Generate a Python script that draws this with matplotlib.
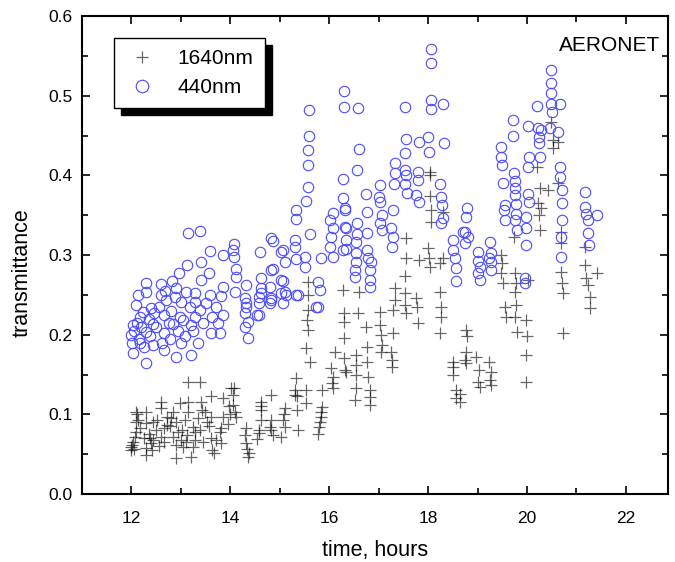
import matplotlib.pyplot as plt
from matplotlib.ticker import MultipleLocator

plt.rcParams["font.family"] = ["Liberation Sans", "DejaVu Sans"]

# 440 nm transmittance (blue circles)
t440 = [
    13.15, 13.39, 13.58, 13.86, 13.13, 13.41, 12.97, 13.56, 13.41, 12.83, 12.6, 12.3, 12.3, 12.59,
    12.89, 13.11, 13.29, 13.58, 13.82, 13.86, 12.14, 12.1, 12.4, 12.7, 13.0, 13.29, 13.29, 12.99,
    12.65, 12.46, 12.18, 12.04, 13.86, 13.62, 13.39, 13.6, 13.8, 13.21, 12.85, 12.44, 12.65, 12.3,
    12.0, 12.04, 12.3, 12.91, 13.21, 12.65, 13.35, 13.01, 12.44, 12.18, 12.02, 12.06, 12.12, 12.15,
    12.2, 12.24, 12.26, 12.35, 12.38, 12.5, 12.55, 12.62, 12.75, 12.8, 12.95, 13.05, 13.08, 13.18,
    13.25, 12.78, 13.45, 13.5, 13.7, 13.75, 12.9, 12.68,
    14.08, 14.06, 14.08, 14.12, 14.12, 14.1, 14.3, 14.32, 14.3, 14.32, 14.36, 14.3, 14.36, 14.32,
    14.53, 14.57, 14.57, 14.61, 14.59, 14.63, 14.63, 14.57, 14.81, 14.83, 14.83, 14.81, 14.83, 14.87,
    14.83, 14.87, 15.03, 15.03, 15.03, 15.07, 15.07, 15.11, 15.11, 15.13, 15.07, 15.31, 15.31, 15.33,
    15.37, 15.33, 15.33, 15.33, 15.52, 15.52, 15.54, 15.58, 15.58, 15.58, 15.62, 15.78, 15.82, 15.74,
    15.84, 15.78, 16.02, 16.08, 16.08, 16.04, 16.02, 16.08, 16.28, 16.28, 16.32, 16.32, 16.34, 16.28,
    15.6, 15.6,
    16.3, 16.3, 16.59, 16.61, 16.57, 17.54, 18.06, 18.06, 18.06, 18.06, 18.3, 17.56, 17.54, 17.82,
    18.0, 18.02, 18.32, 17.33, 17.33, 17.54, 17.56, 17.8, 17.8, 17.31, 17.54, 17.58, 17.76, 17.82,
    18.24, 18.26, 18.28, 18.3, 18.26, 16.32, 16.75, 16.77, 17.03, 17.01, 17.03, 17.07, 17.03, 17.07,
    17.29, 17.25, 17.29, 17.27, 16.34, 16.34, 16.57, 16.57, 16.55, 16.77, 16.77, 16.55, 16.55, 16.53,
    16.53, 16.79, 16.85, 16.83, 16.83, 16.83, 18.5, 18.5, 18.55, 18.57, 18.57, 18.7,
    20.48, 20.48, 20.48, 20.48, 20.67, 20.5, 20.2, 19.72, 19.72, 20.02, 20.22, 20.28, 20.46, 20.63,
    20.24, 20.24, 20.26, 20.04, 20.02, 19.47, 19.47, 19.49, 19.51, 19.74, 19.76, 19.76, 19.76, 19.78,
    19.78, 19.76, 19.8, 20.02, 20.04, 19.98, 19.98, 19.98, 19.56, 19.54, 19.56, 20.67, 20.67, 20.71,
    20.71, 20.71, 20.69, 20.69, 21.17, 21.17, 21.19, 21.23, 21.23, 21.25, 21.41, 18.79, 18.77, 18.75,
    18.81, 18.75, 19.0, 19.01, 19.05, 19.01, 19.05, 19.25, 19.27, 19.27, 19.27, 19.23, 19.96, 19.96,
]
v440 = [
    0.327, 0.33, 0.305, 0.30, 0.287, 0.291, 0.277, 0.277, 0.268, 0.267, 0.263, 0.265, 0.253, 0.25,
    0.247, 0.253, 0.252, 0.25, 0.248, 0.26, 0.25, 0.237, 0.233, 0.243, 0.241, 0.241, 0.222, 0.222,
    0.225, 0.227, 0.222, 0.212, 0.225, 0.222, 0.231, 0.202, 0.202, 0.212, 0.214, 0.214, 0.202, 0.203,
    0.2, 0.177, 0.164, 0.172, 0.174, 0.181, 0.189, 0.189, 0.187, 0.189, 0.19, 0.205, 0.215, 0.195,
    0.21, 0.228, 0.185, 0.22, 0.198, 0.21, 0.235, 0.19, 0.215, 0.23, 0.205, 0.218, 0.198, 0.235,
    0.205, 0.195, 0.215, 0.24, 0.235, 0.215, 0.258, 0.255,
    0.314, 0.306, 0.297, 0.283, 0.272, 0.253, 0.227, 0.262, 0.246, 0.235, 0.216, 0.21, 0.196, 0.24,
    0.225, 0.24, 0.247, 0.258, 0.304, 0.271, 0.252, 0.225, 0.26, 0.243, 0.246, 0.24, 0.281, 0.282,
    0.321, 0.317, 0.304, 0.252, 0.268, 0.306, 0.267, 0.291, 0.253, 0.25, 0.24, 0.319, 0.31, 0.295,
    0.25, 0.25, 0.356, 0.345, 0.297, 0.285, 0.368, 0.385, 0.413, 0.432, 0.326, 0.266, 0.256, 0.235,
    0.296, 0.235, 0.344, 0.353, 0.334, 0.322, 0.31, 0.297, 0.396, 0.371, 0.359, 0.335, 0.319, 0.306,
    0.482, 0.45,
    0.506, 0.486, 0.484, 0.433, 0.407, 0.486, 0.558, 0.541, 0.494, 0.483, 0.489, 0.445, 0.428, 0.442,
    0.448, 0.429, 0.44, 0.415, 0.403, 0.407, 0.4, 0.404, 0.394, 0.389, 0.389, 0.378, 0.375, 0.366,
    0.389, 0.373, 0.363, 0.346, 0.34, 0.356, 0.377, 0.354, 0.388, 0.373, 0.366, 0.35, 0.34, 0.331,
    0.357, 0.334, 0.322, 0.31, 0.334, 0.308, 0.34, 0.326, 0.316, 0.327, 0.306, 0.302, 0.291, 0.281,
    0.272, 0.296, 0.291, 0.281, 0.268, 0.26, 0.319, 0.306, 0.296, 0.284, 0.267, 0.329,
    0.532, 0.516, 0.503, 0.49, 0.49, 0.479, 0.487, 0.469, 0.45, 0.462, 0.459, 0.457, 0.46, 0.455,
    0.448, 0.44, 0.423, 0.423, 0.41, 0.435, 0.423, 0.413, 0.39, 0.403, 0.393, 0.384, 0.375, 0.364,
    0.352, 0.344, 0.331, 0.376, 0.366, 0.348, 0.334, 0.312, 0.363, 0.356, 0.344, 0.41, 0.398, 0.381,
    0.365, 0.344, 0.322, 0.298, 0.379, 0.36, 0.352, 0.344, 0.328, 0.312, 0.35, 0.359, 0.348, 0.329,
    0.323, 0.315, 0.304, 0.293, 0.285, 0.277, 0.268, 0.316, 0.302, 0.291, 0.281, 0.296, 0.271, 0.265,
]

# 1640 nm transmittance (crosses)
t1640 = [
    13.15, 13.39, 13.6, 13.86, 14.02, 12.6, 12.99, 13.15, 13.41, 13.43, 13.49, 13.15, 12.85, 12.59,
    12.3, 12.1, 12.1, 12.14, 12.3, 12.44, 12.71, 12.71, 12.91, 13.09, 13.25, 13.29, 13.39, 13.56,
    13.6, 13.86, 13.82, 13.8, 13.82, 13.6, 13.62, 13.29, 13.25, 13.21, 13.05, 13.01, 12.91, 12.85,
    12.65, 12.6, 12.65, 12.44, 12.4, 12.3, 12.3, 12.08, 12.04, 12.0, 12.0, 12.1, 12.91, 12.18,
    12.02, 12.06, 12.12, 12.35, 12.38, 12.42, 12.5, 12.52, 12.78, 12.8, 12.95, 13.02, 13.1, 13.12,
    13.35, 13.45, 13.52, 13.66, 13.7, 13.95, 13.98, 14.0, 12.25, 12.55,
    14.08, 14.06, 14.06, 14.1, 14.12, 14.32, 14.3, 14.32, 14.34, 14.38, 14.36, 14.57, 14.61, 14.61,
    14.61, 14.57, 14.83, 14.83, 14.81, 14.83, 15.03, 15.07, 15.09, 15.11, 15.11, 15.33, 15.31, 15.31,
    15.35, 15.37, 15.54, 15.54, 15.62, 15.54, 15.58, 15.56, 15.58, 15.58, 15.58, 15.86, 15.84, 15.84,
    15.82, 15.8, 15.78, 15.86, 16.04, 16.08, 16.06, 16.08, 16.12, 16.28, 16.3, 16.3, 16.3, 16.3,
    16.32, 14.87, 14.61, 14.53, 15.35,
    18.04, 18.04, 18.04, 18.06, 18.06, 18.3, 17.56, 17.56, 17.54, 18.0, 18.02, 18.04, 17.82, 18.3,
    17.33, 17.33, 17.29, 17.54, 17.54, 17.56, 17.76, 17.78, 17.8, 18.24, 18.26, 18.26, 18.24, 17.03,
    17.03, 17.05, 17.07, 17.05, 17.29, 17.25, 17.27, 17.27, 16.75, 16.77, 16.77, 16.79, 16.83, 16.83,
    16.83, 16.55, 16.55, 16.55, 16.55, 16.53, 16.34, 16.59, 16.61, 18.5, 18.51, 18.51, 18.57, 18.57,
    18.24, 18.65, 18.65,
    20.48, 20.53, 20.63, 20.53, 20.2, 20.26, 20.42, 20.22, 20.28, 20.24, 20.26, 20.63, 20.69, 20.69,
    20.69, 20.71, 20.73, 20.73, 19.74, 19.47, 19.49, 19.47, 19.51, 19.76, 19.78, 19.76, 19.78, 19.56,
    19.58, 19.76, 19.8, 19.98, 20.0, 19.98, 19.98, 20.02, 18.77, 18.79, 18.77, 18.75, 18.77, 18.97,
    19.03, 19.01, 19.05, 19.23, 19.27, 19.25, 19.27, 21.17, 21.19, 21.23, 21.27, 21.27, 21.41, 21.17,
]
v1640 = [
    0.141, 0.141, 0.123, 0.12, 0.133, 0.115, 0.114, 0.115, 0.115, 0.105, 0.103, 0.103, 0.103, 0.108,
    0.103, 0.103, 0.09, 0.093, 0.089, 0.09, 0.097, 0.087, 0.09, 0.093, 0.084, 0.078, 0.08, 0.085,
    0.097, 0.097, 0.083, 0.078, 0.064, 0.07, 0.055, 0.068, 0.059, 0.046, 0.059, 0.068, 0.061, 0.072,
    0.083, 0.072, 0.065, 0.068, 0.064, 0.058, 0.049, 0.072, 0.065, 0.059, 0.055, 0.078, 0.045, 0.083,
    0.062, 0.057, 0.1, 0.075, 0.07, 0.055, 0.08, 0.093, 0.085, 0.095, 0.078, 0.08, 0.065, 0.074,
    0.095, 0.065, 0.09, 0.052, 0.068, 0.088, 0.11, 0.1, 0.07, 0.06,
    0.133, 0.124, 0.112, 0.103, 0.097, 0.083, 0.074, 0.064, 0.057, 0.051, 0.047, 0.08, 0.093, 0.105,
    0.116, 0.076, 0.124, 0.093, 0.084, 0.08, 0.072, 0.093, 0.101, 0.108, 0.084, 0.146, 0.13, 0.124,
    0.105, 0.08, 0.13, 0.114, 0.166, 0.183, 0.206, 0.218, 0.231, 0.25, 0.266, 0.109, 0.103, 0.097,
    0.09, 0.084, 0.075, 0.13, 0.158, 0.147, 0.139, 0.133, 0.178, 0.256, 0.227, 0.216, 0.196, 0.171,
    0.156, 0.074, 0.11, 0.069, 0.123,
    0.404, 0.4, 0.374, 0.356, 0.341, 0.354, 0.321, 0.296, 0.274, 0.309, 0.296, 0.285, 0.294, 0.296,
    0.258, 0.243, 0.231, 0.252, 0.237, 0.227, 0.246, 0.235, 0.215, 0.253, 0.235, 0.222, 0.202, 0.228,
    0.212, 0.2, 0.187, 0.178, 0.202, 0.178, 0.168, 0.159, 0.21, 0.185, 0.166, 0.147, 0.13, 0.122,
    0.112, 0.174, 0.162, 0.149, 0.133, 0.118, 0.153, 0.227, 0.253, 0.166, 0.159, 0.149, 0.13, 0.12,
    0.29, 0.125, 0.115,
    0.467, 0.444, 0.442, 0.434, 0.41, 0.384, 0.381, 0.365, 0.359, 0.35, 0.331, 0.39, 0.329, 0.315,
    0.279, 0.265, 0.252, 0.202, 0.322, 0.3, 0.29, 0.277, 0.265, 0.277, 0.265, 0.253, 0.237, 0.235,
    0.222, 0.222, 0.203, 0.218, 0.198, 0.174, 0.141, 0.268, 0.206, 0.198, 0.178, 0.168, 0.164, 0.172,
    0.156, 0.141, 0.134, 0.166, 0.153, 0.143, 0.137, 0.287, 0.271, 0.262, 0.247, 0.233, 0.277, 0.31,
]

fig = plt.figure(figsize=(6.75, 5.62), dpi=100)
ax = fig.add_axes([0.1215, 0.121, 0.868, 0.8505])

ax.plot(t1640, v1640, linestyle="none", marker="+", markersize=8,
        markeredgewidth=0.9, color="black", alpha=0.6, label="1640nm")
ax.plot(t440, v440, linestyle="none", marker="o", markersize=7.5,
        markerfacecolor="none", markeredgewidth=0.8, markeredgecolor="#4a4aff",
        label="440nm")

ax.set_xlim(11, 22.85)
ax.set_ylim(0, 0.6)
ax.xaxis.set_major_locator(MultipleLocator(2))
ax.xaxis.set_minor_locator(MultipleLocator(1))
ax.yaxis.set_major_locator(MultipleLocator(0.1))
ax.yaxis.set_minor_locator(MultipleLocator(0.05))
ax.yaxis.set_major_formatter(plt.FuncFormatter(lambda v, p: f"{v:.1f}"))
ax.tick_params(which="both", direction="in", top=True, right=True, width=1.2,
               labelsize=12.5)
ax.tick_params(which="major", length=6)
ax.tick_params(which="minor", length=4.5)
ax.tick_params(axis="x", which="major", pad=12)
ax.tick_params(axis="y", which="major", pad=7)
for s in ax.spines.values():
    s.set_linewidth(1.5)

ax.set_xlabel("time, hours", fontsize=15.5, labelpad=10)
ax.set_ylabel("transmittance", fontsize=15.5)
ax.yaxis.set_label_coords(-0.084, 0.464)

ax.text(0.986, 0.939, "AERONET", transform=ax.transAxes, ha="right",
        va="center", fontsize=15)

leg = ax.legend(loc="upper left", bbox_to_anchor=(0.055, 0.954), borderaxespad=0,
                fontsize=15, fancybox=False, framealpha=1, edgecolor="black",
                handletextpad=0.9, handlelength=1.6, labelspacing=0.45,
                borderpad=0.55,
                shadow={"ox": 5, "oy": -5, "facecolor": "black",
                        "edgecolor": "black", "alpha": 1})
leg.get_frame().set_linewidth(1.0)
leg.legend_handles[1].set_markersize(9)

fig.savefig("out.png", dpi=100)
